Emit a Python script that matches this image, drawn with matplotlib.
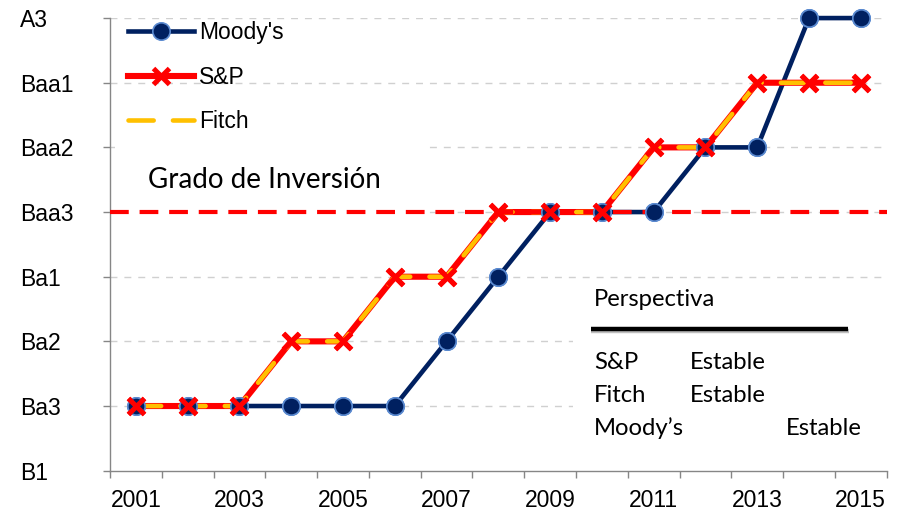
import matplotlib
matplotlib.use("Agg")
import matplotlib.pyplot as plt
import matplotlib.patheffects as pe
from matplotlib.patches import Rectangle
import numpy as np

plt.rcParams.update({
    "font.family": ["Liberation Sans", "DejaVu Sans"],
    "font.size": 16.5,
})

# rating scale (index = position on y axis)
RATINGS = ["B1", "Ba3", "Ba2", "Ba1", "Baa3", "Baa2", "Baa1", "A3"]
YEARS = list(range(2001, 2016))

moodys = [1, 1, 1, 1, 1, 1, 2, 3, 4, 4, 4, 5, 5, 7, 7]
sp = [1, 1, 1, 2, 2, 3, 3, 4, 4, 4, 5, 5, 6, 6, 6]
fitch = [1, 1, 1, 2, 2, 3, 3, 4, 4, 4, 5, 5, 6, 6, 6]
investment_grade = 4  # Baa3

outlook_agencies = ["S&P", "Fitch", "Moody\u2019s"]
outlook_values = ["Estable", "Estable", "Estable"]

NAVY = "#002060"
RED = "#FF0000"
GOLD = "#FFC000"
AXIS = "#868686"

fig = plt.figure(figsize=(9.02, 5.12), dpi=100)
ax = fig.add_axes([0.122, 0.0807, 0.861, 0.884])

x = np.array(YEARS)

# gridlines
for y in range(1, len(RATINGS)):
    ax.axhline(y, color="#d0d0d0", lw=1.0, ls=(0, (5, 5)), zorder=0.5)

# white boxes behind the annotations
ax.add_patch(Rectangle((0.006, 0.55), 0.40, 0.21, transform=ax.transAxes,
                       facecolor="white", edgecolor="none", zorder=1))
ax.add_patch(Rectangle((0.596, 0.024), 0.41, 0.375, transform=ax.transAxes,
                       facecolor="white", edgecolor="none", zorder=1, clip_on=False))

moody_style = dict(marker="o", ms=12.5, mfc=NAVY, mec="#5b8ad0", mew=1.2)
sp_style = dict(marker="x", ms=12, mew=3.6)

ax.plot(x, moodys, color=NAVY, lw=3.3, label="Moody's", zorder=3,
        clip_on=False, **moody_style)
ax.plot(x, sp, color=RED, lw=4.4, label="S&P", zorder=3.5,
        clip_on=False, **sp_style)
ax.plot(x, fitch, color=GOLD, lw=3.3, ls=(0, (5.5, 4.2)), dash_capstyle="round",
        label="Fitch", zorder=4, clip_on=False)
ax.axhline(investment_grade, color=RED, lw=3.0, ls=(0, (4.5, 2.6)), zorder=4.5)
# markers drawn again on top of the lines
ax.plot(x, moodys, ls="none", zorder=5, clip_on=False, **moody_style)
ax.plot(x, sp, ls="none", color=RED, zorder=6, clip_on=False, **sp_style)

ax.set_xlim(2000.5, 2015.5)
ax.set_ylim(0, 7)
ax.set_xticks(YEARS[::2])
ax.set_xticks(np.arange(2000.5, 2016, 1.0), minor=True)
ax.set_yticks(range(len(RATINGS)))
ax.set_yticklabels(RATINGS, ha="left")
ax.tick_params(axis="x", which="major", length=0, pad=13)
ax.tick_params(axis="x", which="minor", length=5, width=1, color=AXIS)
ax.tick_params(axis="y", length=5, width=1, color=AXIS, pad=60)

for s in ["top", "right"]:
    ax.spines[s].set_visible(False)
for s in ["left", "bottom"]:
    ax.spines[s].set_color(AXIS)
    ax.spines[s].set_linewidth(1.0)

ax.legend(loc="upper left", bbox_to_anchor=(0.002, 1.028), frameon=False,
          handlelength=2.9, handletextpad=0.2, labelspacing=0.92,
          borderaxespad=0.3, fontsize=16.5)

ax.text(0.049, 0.642, "Grado de Inversi\u00f3n", transform=ax.transAxes,
        family="Lato", fontsize=20, ha="left", va="center", zorder=2)

ax.text(0.623, 0.379, "Perspectiva", transform=ax.transAxes,
        family="Lato", fontsize=17.2, ha="left", va="center", zorder=2)
ax.plot([0.619, 0.950], [0.313, 0.313], transform=ax.transAxes, color="black",
        lw=3.2, solid_capstyle="butt", zorder=2, clip_on=False,
        path_effects=[pe.SimpleLineShadow(offset=(0.5, -1.5), alpha=0.25), pe.Normal()])
row_y = [0.240, 0.167, 0.094]
col_x = [0.746, 0.746, 0.870]
for name, val, yy, xx in zip(outlook_agencies, outlook_values, row_y, col_x):
    ax.text(0.623, yy, name, transform=ax.transAxes, family="Lato",
            fontsize=17.2, ha="left", va="center", zorder=2)
    ax.text(xx, yy, val, transform=ax.transAxes, family="Lato",
            fontsize=17.2, ha="left", va="center", zorder=2)

fig.savefig("out.png", dpi=100)
